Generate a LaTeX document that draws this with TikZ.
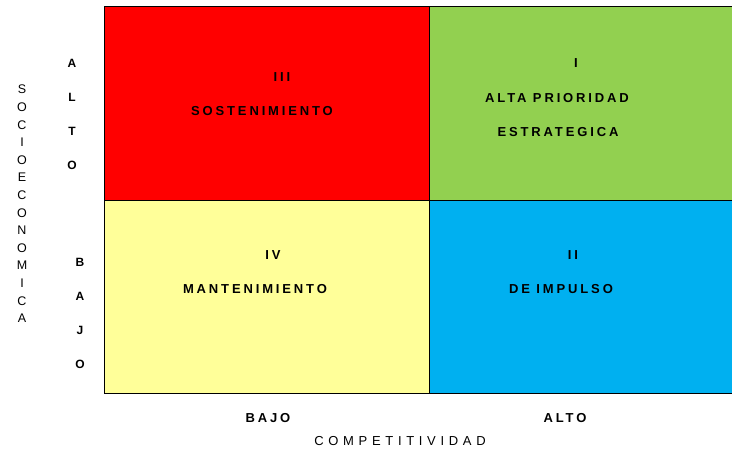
\documentclass[tikz,border=0pt]{standalone}
\usepackage{fontspec}
\setmainfont{Liberation Sans}
\newfontfamily\quadfont[LetterSpace=22]{Liberation Sans}
\newfontfamily\axisfont[LetterSpace=36]{Liberation Sans}
\usetikzlibrary{positioning}

\definecolor{rojo}{HTML}{FF0000}
\definecolor{verde}{HTML}{92D050}
\definecolor{amarillo}{HTML}{FFFF99}
\definecolor{celeste}{HTML}{00B0F0}

\begin{document}
\begin{tikzpicture}
        [
            x = 1pt, y = -1pt,
            node distance = 22pt,
            quad/.style = {
                draw, line width=1.4pt, rectangle, anchor=north west,
                inner sep=0pt, minimum height=194pt},
            tag/.style = {font=\quadfont\bfseries\fontsize{13}{15}\selectfont,
                inner sep=0pt},
            level/.style = {font=\bfseries\fontsize{12}{34}\selectfont,
                align=center, inner sep=0pt},
            axis/.style = {font=\axisfont\fontsize{13}{15}\selectfont, inner sep=0pt}
        ]
        \useasboundingbox (0,0) rectangle (732,448);
        % quadrants
        \node [quad, fill=rojo, minimum width=325pt] (Sost) at (104,6) {};
        \node [quad, fill=verde, minimum width=305pt] (Alta) at (429,6) {};
        \node [quad, fill=amarillo, minimum width=325pt, minimum height=193pt] (Mant) at (104,200) {};
        \node [quad, fill=celeste, minimum width=305pt, minimum height=193pt] (Imp) at (429,200) {};
        % quadrant labels
        \node [tag] (III) at (282,77) {III};
        \node [tag] (SostTxt) at (262,111) {SOSTENIMIENTO};
        \node [tag] (I) at (576,63) {I};
        \node [tag] (AltaTxt) at (557,98) {ALTA PRIORIDAD};
        \node [tag] (EstTxt) at (558,132) {ESTRATEGICA};
        \node [tag] (IV) at (273,255) {IV};
        \node [tag] (MantTxt) at (255,289) {MANTENIMIENTO};
        \node [tag] (II) at (573,255) {II};
        \node [tag] (ImpTxt) at (561,289) {DE IMPULSO};
        % axes
        \node [tag] (xBajo) at (268,418) {BAJO};
        \node [tag] (xAlto) at (565,418) {ALTO};
        \node [axis] (xAxis) at (400,441) {COMPETITIVIDAD};
        \node [level] (yAlto) at (72,114) {A\\L\\T\\O};
        \node [level] (yBajo) at (80,313) {B\\A\\J\\O};
        \node [font=\fontsize{12.5}{17.6}\selectfont, align=center, inner sep=0pt] (yAxis) at (22,204)
            {S\\O\\C\\I\\O\\E\\C\\O\\N\\O\\M\\I\\C\\A};
    \end{tikzpicture}
\end{document}
